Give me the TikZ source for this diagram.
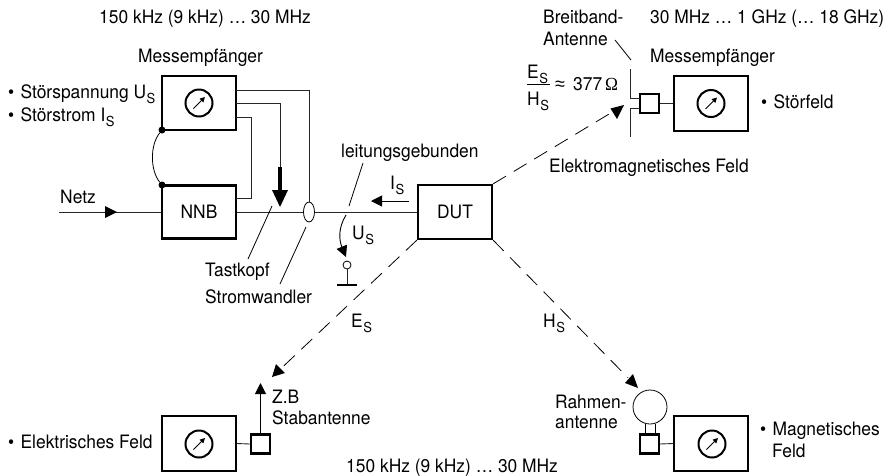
\documentclass[tikz,border=0pt]{standalone}
\usepackage{fontspec}
\setmainfont{TeX Gyre Heros}
\newfontfamily\serifom{Liberation Serif}
\newfontfamily\symf{Liberation Sans}
\usetikzlibrary{arrows.meta,calc,shapes.geometric}
\newcommand{\lowS}{\kern0.5pt\raisebox{-5.5pt}{\fontsize{13}{13}\selectfont S}}
\newcommand{\bul}{\textbullet\kern1.5pt\ }
\tikzset{
  lab/.style={anchor=base west,inner sep=0pt,font=\fontsize{17.4}{20}\selectfont,transform shape,yscale=1.06},
  ctr/.style={anchor=center,inner sep=0pt,font=\fontsize{17.4}{20}\selectfont,transform shape,yscale=1.06},
  boxthick/.style={draw,line width=2.3pt,fill=white,minimum width=74pt,minimum height=54.5pt,inner sep=0pt,anchor=center},
  smallbox/.style={draw,line width=2.2pt,fill=white,minimum width=19pt,minimum height=19pt,inner sep=0pt,anchor=center},
  dial/.style={draw,circle,line width=2pt,minimum size=27pt,inner sep=0pt,anchor=center},
  wire/.style={line width=0.9pt,draw=black!85},
  fine/.style={line width=0.8pt},
  dashline/.style={line width=0.8pt,dash pattern=on 15pt off 9pt},
  tip/.style={-{Triangle[length=11pt,width=11pt]}},
  dot/.style={circle,fill,inner sep=0pt,minimum size=7pt},
}
\newcommand{\needle}[1]{\draw[line width=1pt,-{Triangle[length=5pt,width=5pt]}] ($(#1)+(-5.5,5.5)$) -- ($(#1)+(6,-6)$);}
\begin{document}
\begin{tikzpicture}[x=1pt,y=-1pt]
\useasboundingbox (0,0) rectangle (896,475);

% boxes
\node[boxthick] (m1) at (199,103) {};
\node[dial] (d1) at (199,103) {};
\needle{d1}
\node[boxthick,minimum height=53pt] (nnb) at (199,212) {};
\node[ctr] (nnbt) at (nnb) {NNB};
\node[boxthick,minimum height=54pt] (dut) at (455,212) {};
\node[ctr] (dutt) at (dut) {DUT};
\node[boxthick] (m2) at (711,103.5) {};
\node[dial] (d2) at (711,103.5) {};
\needle{d2}
\node[boxthick] (m3) at (199,443.5) {};
\node[dial] (d3) at (199,444) {};
\needle{d3}
\node[boxthick] (m4) at (711,443.5) {};
\node[dial] (d4) at (712,444) {};
\needle{d4}
\node[smallbox] (s2) at (649.5,103.5) {};
\node[smallbox] (s3) at (260.5,444) {};
\node[smallbox] (s4) at (649.5,444) {};
\node[draw,circle,line width=0.8pt,minimum size=34pt,inner sep=0pt] (loop) at (650,407) {};

% coordinates
\coordinate (a90) at (236,90);
\coordinate (a103) at (236,103);
\coordinate (a117) at (236,117);
\node[draw,ellipse,line width=0.8pt,minimum width=11pt,minimum height=20pt,inner sep=0pt] (oval) at (309,212) {};
\coordinate (netz) at (59,212);
\coordinate (nnbr) at (236,198);

% left wiring
\draw[wire] (a90) -- (309,90) -- (oval.north);
\draw[wire] (a103) -- (280,103) -- (280,168);
\draw[line width=4.5pt] (280,167) -- (280,192);
\fill (272,190) -- (288,190) -- (280,207) coordinate (probe) -- cycle;
\draw[wire] (a117) -- (251,117) -- (251,198) -- (nnbr);
\draw[wire] (netz) -- (nnb.west);
\fill (105,206) -- (117,212) -- (105,218) -- cycle;
\draw[wire] (nnb.east) -- (oval.west);
\draw[wire] (oval.east) -- (dut.west);
\node[dot] (j1) at (162,130) {};
\node[dot] (j2) at (162,185) {};
\draw[fine] (j1) .. controls (150,145) and (150,170) .. (j2);

% leader lines
\coordinate (t1) at (272,206); \coordinate (t2) at (248,259);
\draw[fine] (t1) -- (t2);
\coordinate (w1) at (306,227); \coordinate (w2) at (280,284);
\draw[fine] (w1) -- (w2);
\coordinate (l1) at (363,163); \coordinate (l2) at (349,206);
\draw[fine] (l1) -- (l2);
\coordinate (b1) at (615,40); \coordinate (b2) at (631,60);
\draw[fine] (b1) -- (b2);

% currents and voltages
\coordinate (i1) at (409,201); \coordinate (i2) at (371,201);
\draw[line width=0.9pt,tip] (i1) -- (i2);
\coordinate (u1) at (346,215); \coordinate (u2) at (346,257);
\draw[line width=0.9pt,tip] (u1) .. controls (338,228) and (339,240) .. (u2);
\node[draw,circle,line width=0.8pt,minimum size=8pt,inner sep=0pt] (term) at (347,265) {};
\coordinate (gnd) at (347,285);
\draw[wire] (term.south) -- (gnd);
\draw[line width=2.2pt] (337,285) -- (357,285);

% field lines
\coordinate (f1) at (624,105);
\coordinate (f2) at (272,377);
\coordinate (f3) at (638,388);
\draw[dashline] (dut.north east) -- ($(dut.north east)!0.92!(f1)$);
\fill (f1) -- (610.5,108.5) -- (617,119) -- cycle;
\draw[dashline] (dut.south west) -- ($(dut.south west)!0.93!(f2)$);
\fill (f2) -- (276,364) -- (285,373) -- cycle;
\draw[dashline] (dut.south east) -- ($(dut.south east)!0.93!(f3)$);
\fill (f3) -- (625,383) -- (633,374) -- cycle;

% antennas
\draw[wire] (630,69) -- (630,98) -- (640,98);
\draw[wire] (630,137) -- (630,108) -- (640,108);
\draw[wire] (s2.east) -- (m2.west);
\draw[wire] (m3.east) -- (s3.west);
\draw[line width=1pt,-{Triangle[length=11pt,width=11pt]}] (s3.north) -- (260.5,383);
\draw[wire] (s4.east) -- (m4.west);
\draw[fine] (645,423.5) -- (645,434);
\draw[fine] (655,423.5) -- (655,434);

% texts
\node[lab] (t01) at (99,23) {150 kHz (9 kHz) … 30 MHz};
\node[lab] (t02) at (138,62) {Messempfänger};
\node[lab] (t03) at (8,98) {\bul Störspannung U\lowS};
\node[lab] (t04) at (8,121) {\bul Störstrom I\lowS};
\node[lab] (t05) at (60,203) {Netz};
\node[lab] (t06) at (205,276) {Tastkopf};
\node[lab] (t07) at (205,303) {Stromwandler};
\node[lab] (t08) at (341,157) {leitungsgebunden};
\node[lab] (t09) at (390,189) {I\lowS};
\node[lab] (t10) at (352,239) {U\lowS};
\node[lab] (t11) at (543,23) {Breitband-};
\node[lab] (t12) at (543,45) {Antenne};
\node[lab] (t13) at (650,23) {30 MHz … 1 GHz (… 18 GHz)};
\node[lab] (t14) at (650,62) {Messempfänger};
\node[lab] (t15) at (527,78) {E\lowS};
\draw[line width=0.9pt] (527,84.5) -- (550,84.5);
\node[lab] (t16) at (527,105) {H\lowS};
\node[lab] (t17a) at (555,90) {\symf\fontsize{18}{18}\selectfont ≈};
\node[lab] (t17) at (573,90) {377\,{\serifom Ω}};
\node[lab] (t18) at (761,108) {\bul Störfeld};
\node[lab] (t19) at (549,172) {Elektromagnetisches Feld};
\node[lab] (t20) at (351,327) {E\lowS};
\node[lab] (t21) at (543,327) {H\lowS};
\node[lab] (t22) at (272,403) {Z.B};
\node[lab] (t23) at (272,424) {Stabantenne};
\node[lab] (t24) at (8,448) {\bul Elektrisches Feld};
\node[lab] (t25) at (555,408) {Rahmen-};
\node[lab] (t26) at (555,428) {antenne};
\node[lab] (t27) at (760,435) {\bul Magnetisches};
\node[lab] (t28) at (772,457) {Feld};
\node[lab] (t29) at (346,472.5) {150 kHz (9 kHz) … 30 MHz};
\end{tikzpicture}
\end{document}
